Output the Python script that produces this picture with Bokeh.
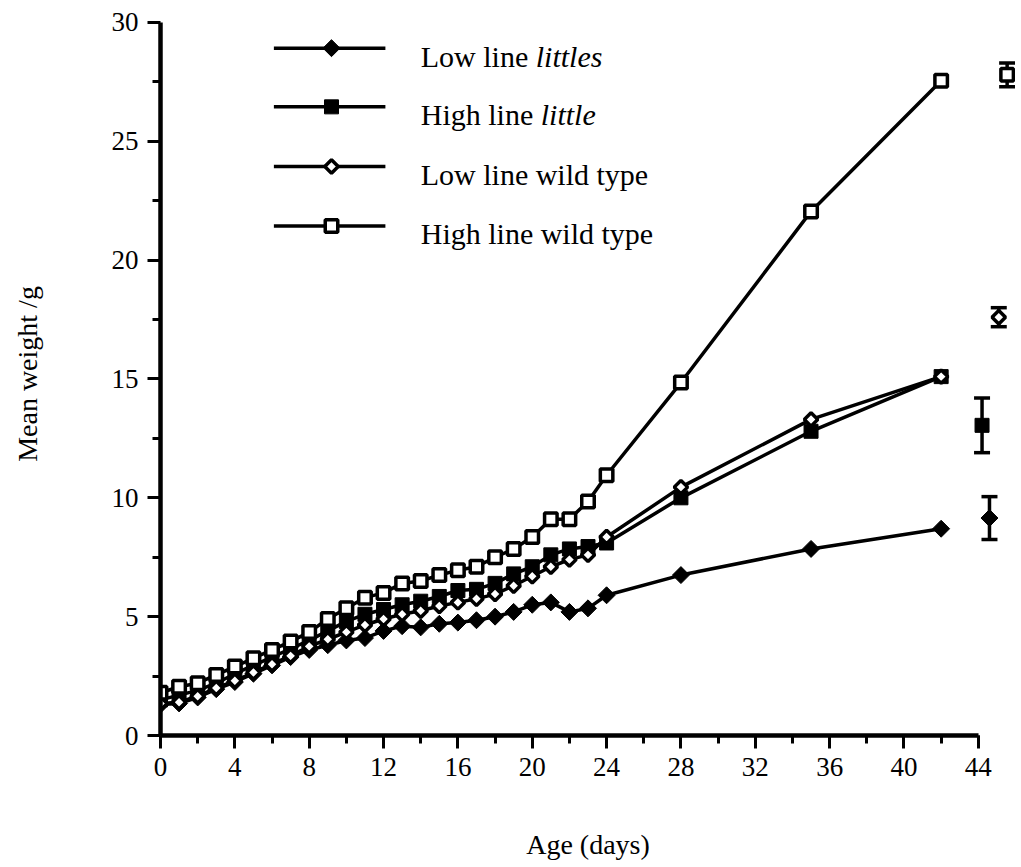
from bokeh.plotting import figure
from bokeh.models import FixedTicker, ColumnDataSource, Whisker, TeeHead, Range1d
from bokeh.core.properties import value
from bokeh.embed import file_html
from bokeh.resources import INLINE
import numpy as np

# ---------------- data ----------------
days = list(range(0, 25)) + [28, 35, 42]

low_littles = [1.30, 1.35, 1.60, 1.95, 2.25, 2.60, 2.95, 3.30, 3.60, 3.80,
               4.00, 4.10, 4.40, 4.60, 4.55, 4.70, 4.75, 4.85, 5.00, 5.20,
               5.50, 5.60, 5.20, 5.35, 5.90, 6.75, 7.85, 8.70]
high_little = [1.50, 1.70, 1.90, 2.20, 2.60, 2.95, 3.30, 3.65, 4.00, 4.40,
               4.80, 5.10, 5.30, 5.50, 5.65, 5.85, 6.10, 6.15, 6.40, 6.80,
               7.10, 7.60, 7.85, 7.95, 8.10, 10.00, 12.80, 15.10]
low_wild = [1.35, 1.40, 1.65, 2.00, 2.30, 2.65, 3.00, 3.35, 3.75, 4.05,
            4.35, 4.65, 4.90, 5.10, 5.25, 5.45, 5.60, 5.75, 5.95, 6.30,
            6.70, 7.10, 7.40, 7.60, 8.35, 10.45, 13.30, 15.10]
high_wild = [1.80, 2.05, 2.20, 2.55, 2.90, 3.25, 3.60, 3.95, 4.35, 4.90,
             5.35, 5.80, 6.00, 6.40, 6.50, 6.75, 6.95, 7.10, 7.50, 7.85,
             8.35, 9.10, 9.10, 9.85, 10.95, 14.85, 22.05, 27.55]

# adult means with error bars (plotted to the right of the axis end)
adult_x = [44.6, 44.2, 45.1, 45.55]
adult_mean = [9.15, 13.05, 17.6, 27.8]
adult_err = [0.9, 1.15, 0.4, 0.5]

series_names = ["Low line ", "High line ", "Low line wild type", "High line wild type"]
italic_parts = ["littles", "little", "", ""]

x_major = list(range(0, 45, 4))
x_minor = list(range(0, 45, 2))
y_major = [0, 5, 10, 15, 20, 25, 30]
y_minor = [2.5, 7.5, 12.5, 17.5, 22.5, 27.5]

FONT = "Liberation Serif"

p = figure(width=1015, height=862, output_backend="svg", toolbar_location=None,
           x_range=Range1d(0, 46.0), y_range=Range1d(0, 30.42),
           min_border_left=160, min_border_right=0, min_border_top=12,
           min_border_bottom=122)
p.outline_line_color = None
p.grid.visible = False
p.background_fill_color = "white"
p.border_fill_color = "white"

for ax in (p.xaxis[0], p.yaxis[0]):
    ax.axis_line_width = 4.5
    ax.major_tick_line_width = 3
    ax.minor_tick_line_width = 3
    ax.major_tick_in = 0
    ax.major_tick_out = 13
    ax.minor_tick_in = 0
    ax.minor_tick_out = 8
    ax.major_label_text_font = FONT
    ax.major_label_text_font_size = "27px"
    ax.major_label_text_color = "black"
    ax.axis_label_text_font = FONT
    ax.axis_label_text_font_size = "28px"
    ax.axis_label_text_font_style = "normal"
    ax.axis_label_text_color = "black"
    ax.major_label_standoff = 9

p.xaxis.ticker = FixedTicker(ticks=x_major, minor_ticks=x_minor)
p.yaxis.ticker = FixedTicker(ticks=y_major, minor_ticks=y_minor)
p.xaxis.bounds = (0, 44)
p.yaxis.bounds = (0, 30)
p.xaxis.axis_label = "Age (days)"
p.yaxis.axis_label = "Mean weight /g"
p.xaxis.axis_label_standoff = 50
p.yaxis.axis_label_standoff = 66

LW = 3.5

# error bars
esrc = ColumnDataSource(dict(x=adult_x,
                             upper=[m + e for m, e in zip(adult_mean, adult_err)],
                             lower=[m - e for m, e in zip(adult_mean, adult_err)]))
p.add_layout(Whisker(base="x", upper="upper", lower="lower", source=esrc,
                     line_width=LW, line_color="black",
                     upper_head=TeeHead(size=16, line_width=LW, line_color="black"),
                     lower_head=TeeHead(size=16, line_width=LW, line_color="black")))

styles = [
    dict(marker="square", angle=np.pi / 4, size=12, fill_color="black", line_width=1),
    dict(marker="square", angle=0, size=14, fill_color="black", line_width=1),
    dict(marker="square", angle=np.pi / 4, size=9.5, fill_color="white", line_width=3.5),
    dict(marker="square", angle=0, size=12.5, fill_color="white", line_width=3.5),
]
all_series = [low_littles, high_little, low_wild, high_wild]

for vals, st in zip(all_series, styles):
    p.line(days, vals, line_width=LW, line_color="black")
for vals, st in zip(all_series, styles):
    p.scatter(days, vals, line_color="black", **st)

# adult markers
for i, st in enumerate(styles):
    p.scatter([adult_x[i]], [adult_mean[i]], line_color="black", **st)

# ---------------- legend (drawn manually for mixed italic labels) ----------------
leg_rows = [28.92, 26.45, 23.94, 21.44]
leg_x0, leg_x1, leg_xm, leg_xt = 6.1, 12.1, 9.2, 14.0
p.segment(x0=[leg_x0] * 4, y0=leg_rows, x1=[leg_x1] * 4, y1=leg_rows,
          line_width=LW, line_color="black")
for r, st in zip(leg_rows, styles):
    p.scatter([leg_xm], [r], line_color="black", **st)

LEG_FS = 30
p.text(x=[leg_xt] * 4, y=leg_rows, text=series_names, text_font=value(FONT),
       text_font_size=f"{LEG_FS}px", text_baseline="middle", text_align="left",
       text_color="black", y_offset=8)
em_widths = [3.833, 4.0]
isrc = ColumnDataSource(dict(x=[leg_xt, leg_xt], y=leg_rows[:2], t=italic_parts[:2],
                             xo=[w * LEG_FS for w in em_widths]))
p.text(x="x", y="y", text="t", x_offset="xo", source=isrc, text_font=value(FONT),
       text_font_size=f"{LEG_FS}px", text_font_style="italic", text_baseline="middle",
       text_align="left", text_color="black", y_offset=8)

open("out.html", "w").write(file_html(p, INLINE))
